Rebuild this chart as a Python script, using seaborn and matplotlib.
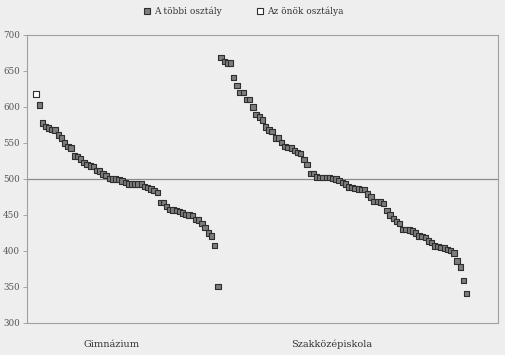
import numpy as np
import pandas as pd
import matplotlib
matplotlib.use("Agg")
import matplotlib.pyplot as plt
import seaborn as sns

# ---- data ----
series_names = ["A többi osztály", "Az önök osztálya"]
group_labels = ["Gimnázium", "Szakközépiskola"]

own_class_value = [618]
gim_values = [603, 578, 573, 571, 569, 568, 561, 557, 550, 545, 543, 532, 531, 528,
              523, 520, 518, 517, 512, 511, 507, 505, 501, 500, 500, 499, 497, 495,
              493, 493, 493, 493, 493, 490, 488, 486, 484, 481, 467, 467, 462, 458,
              457, 456, 455, 453, 451, 450, 449, 444, 443, 438, 433, 425, 421, 408, 351]
szak_values = [669, 663, 661, 661, 641, 630, 620, 620, 610, 610, 600, 590, 586, 582,
               572, 568, 566, 557, 557, 551, 545, 544, 543, 540, 537, 535, 527, 520,
               508, 508, 503, 502, 502, 502, 502, 501, 500, 498, 495, 493, 489, 488,
               487, 486, 485, 485, 479, 475, 469, 469, 468, 466, 456, 450, 445, 441,
               438, 430, 430, 429, 428, 425, 421, 420, 419, 414, 412, 407, 406, 405,
               404, 402, 401, 397, 386, 378, 359, 341]

y_ticks = [300, 350, 400, 450, 500, 550, 600, 650, 700]

# ---- build table ----
values = own_class_value + gim_values + szak_values
series = [series_names[1]] * len(own_class_value) + [series_names[0]] * (len(gim_values) + len(szak_values))
df = pd.DataFrame({"idx": np.arange(len(values)), "value": values, "series": series})

sns.set_theme(style="white")
plt.rcParams["font.family"] = ["DejaVu Serif", "DejaVu Sans"]

bg = "#eeeeee"
fig = plt.figure(figsize=(5.05, 3.55), dpi=100, facecolor=bg)
ax = fig.add_axes([27 / 505, 32 / 355, 471 / 505, 288 / 355], facecolor=bg)

palette = {series_names[0]: "#7d7d7d", series_names[1]: "#ffffff"}
sns.scatterplot(data=df, x="idx", y="value", hue="series", hue_order=series_names,
                palette=palette, marker="s", s=15, edgecolor="#2e2e2e", linewidth=0.8,
                ax=ax, legend=False, zorder=3)

ax.axhline(500, color="#8a8a8a", linewidth=0.9, zorder=1)

n = len(values)
spacing = (n - 1) / (466.7 - 36)
ax.set_xlim(-(36 - 27) * spacing, (n - 1) + (498 - 466.7) * spacing)
ax.set_ylim(300, 700)
ax.set_yticks(y_ticks)
ax.set_yticklabels([str(t) for t in y_ticks], fontsize=6.3, color="#555555")
ax.tick_params(axis="y", length=3, width=0.6, color="#999999", pad=2, left=True)

gim_pos = (112 - 36) * spacing
szak_pos = (332 - 36) * spacing
ax.set_xticks([gim_pos, szak_pos])
ax.set_xticklabels(group_labels, fontsize=7, color="#333333")
ax.tick_params(axis="x", length=0, pad=12)
ax.set_xlabel("")
ax.set_ylabel("")

for sp in ax.spines.values():
    sp.set_visible(True)
    sp.set_color("#a0a0a0")
    sp.set_linewidth(0.8)

# legend
handles = [
    plt.Line2D([], [], linestyle="none", marker="s", markersize=4,
               markerfacecolor=palette[name], markeredgecolor="#2e2e2e", markeredgewidth=0.8)
    for name in series_names
]
fig.legend(handles, series_names, loc="center", bbox_to_anchor=(243 / 505, 1 - 11 / 355),
           ncol=2, frameon=False, fontsize=6.5, handletextpad=0.2, columnspacing=3.8,
           handlelength=1.0, labelcolor="#333333")

fig.savefig("out.png", dpi=100, facecolor=bg)
